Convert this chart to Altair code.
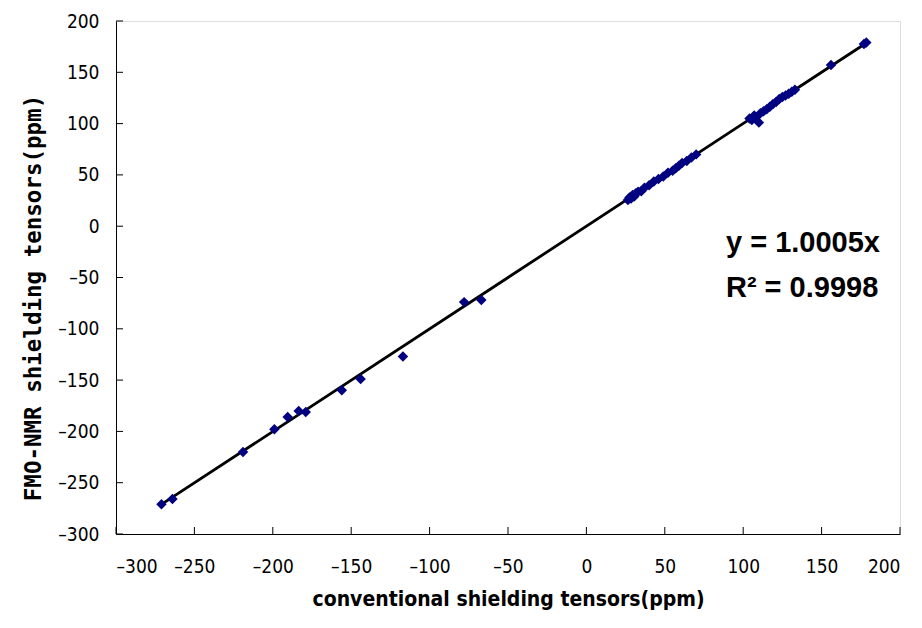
import altair as alt
import pandas as pd

# conventional (x) vs FMO-NMR (y) shielding tensors, ppm
conv = [-271, -264, -219, -199, -190.5, -183.5, -179, -156, -144, -117, -78, -67,
        26.5, 27.5, 28.5, 29.5, 30.5, 31.5, 33, 35, 37, 40, 43, 46, 49, 52, 55, 57, 59, 61, 64, 67, 70,
        104, 105.5, 107, 108, 110, 111, 113, 115, 117, 119, 121, 123, 125, 127, 129, 131, 133,
        156, 177, 178.5]
fmo = [-271, -266, -220, -198, -186, -180, -181, -160, -149, -127, -74, -72,
       25.5, 28, 27, 30.5, 29, 32, 33.5, 34, 37.5, 40, 43.5, 46, 48.5, 52, 54, 56.5, 59, 61.5, 63.5, 67, 70,
       105, 103.5, 108, 106, 101, 110, 112, 114, 116.5, 119, 121, 124, 126, 127.5, 129, 131, 133,
       157, 177.5, 179]

slope = 1.0005
eq_lines = ["y = 1.0005x", "R\u00b2 = 0.9998"]
eq_x = [89, 89]
eq_y = [-16, -60]

tick_vals = [-300, -250, -200, -150, -100, -50, 0, 50, 100, 150, 200]

W, H = 784, 513

pts = pd.DataFrame({"x": conv, "y": fmo})
fit = pd.DataFrame({"x": [min(conv) - 1, max(conv)]})
fit["y"] = slope * fit["x"]
eq = pd.DataFrame({"t": eq_lines, "x": eq_x, "y": eq_y})
ticks = pd.DataFrame({"v": tick_vals})

xs = alt.Scale(domain=[-300, 200], nice=False)
ys = alt.Scale(domain=[-300, 200], nice=False)

label_font = "DejaVu Sans Condensed"
label_expr = "datum.value < 0 ? '\u2013' + abs(datum.value) : '' + datum.value"

xaxis = alt.Axis(values=tick_vals, grid=False, ticks=False, domainColor="black",
                 labelFont=label_font, labelFontSize=19, labelColor="black", labelPadding=23,
                 labelExpr=label_expr,
                 title="conventional shielding tensors(ppm)", titleFont=label_font,
                 titleFontSize=21, titleFontWeight="bold", titleColor="black", titlePadding=12)
yaxis = alt.Axis(values=tick_vals, grid=False, ticks=False, domainColor="black",
                 labelFont=label_font, labelFontSize=19, labelColor="black", labelPadding=17,
                 labelExpr=label_expr,
                 title="FMO-NMR shielding tensors(ppm)", titleFont="DejaVu Sans Mono",
                 titleFontSize=22.5, titleFontWeight="bold", titleColor="black", titlePadding=12,
                 titleY=H / 2 + 20)

points = alt.Chart(pts).mark_point(shape="diamond", filled=True, color="#000080",
                                   size=110, opacity=1).encode(
    x=alt.X("x:Q", scale=xs, axis=xaxis),
    y=alt.Y("y:Q", scale=ys, axis=yaxis),
)

line = alt.Chart(fit).mark_line(color="black", strokeWidth=2.8).encode(
    x=alt.X("x:Q", scale=xs),
    y=alt.Y("y:Q", scale=ys),
)

ytick = alt.Chart(ticks).mark_rule(color="black", strokeWidth=1).encode(
    y=alt.Y("v:Q", scale=ys), x=alt.value(0), x2=alt.value(7))
xtick = alt.Chart(ticks).mark_rule(color="black", strokeWidth=1).encode(
    x=alt.X("v:Q", scale=xs), y=alt.value(H), y2=alt.value(H - 7))

text = alt.Chart(eq).mark_text(align="left", baseline="middle", font="Liberation Sans",
                               fontSize=29, fontWeight="bold", color="black").encode(
    x=alt.X("x:Q", scale=xs), y=alt.Y("y:Q", scale=ys), text="t:N")

chart = alt.layer(line, points, ytick, xtick, text).properties(
    width=W, height=H,
    autosize=alt.AutoSizeParams(type="none"),
    padding={"left": 116, "top": 21, "right": 22, "bottom": 94},
).configure_view(stroke=None).configure(background="white")

chart.save("out.html", embed_options={"renderer": "svg", "actions": False})
